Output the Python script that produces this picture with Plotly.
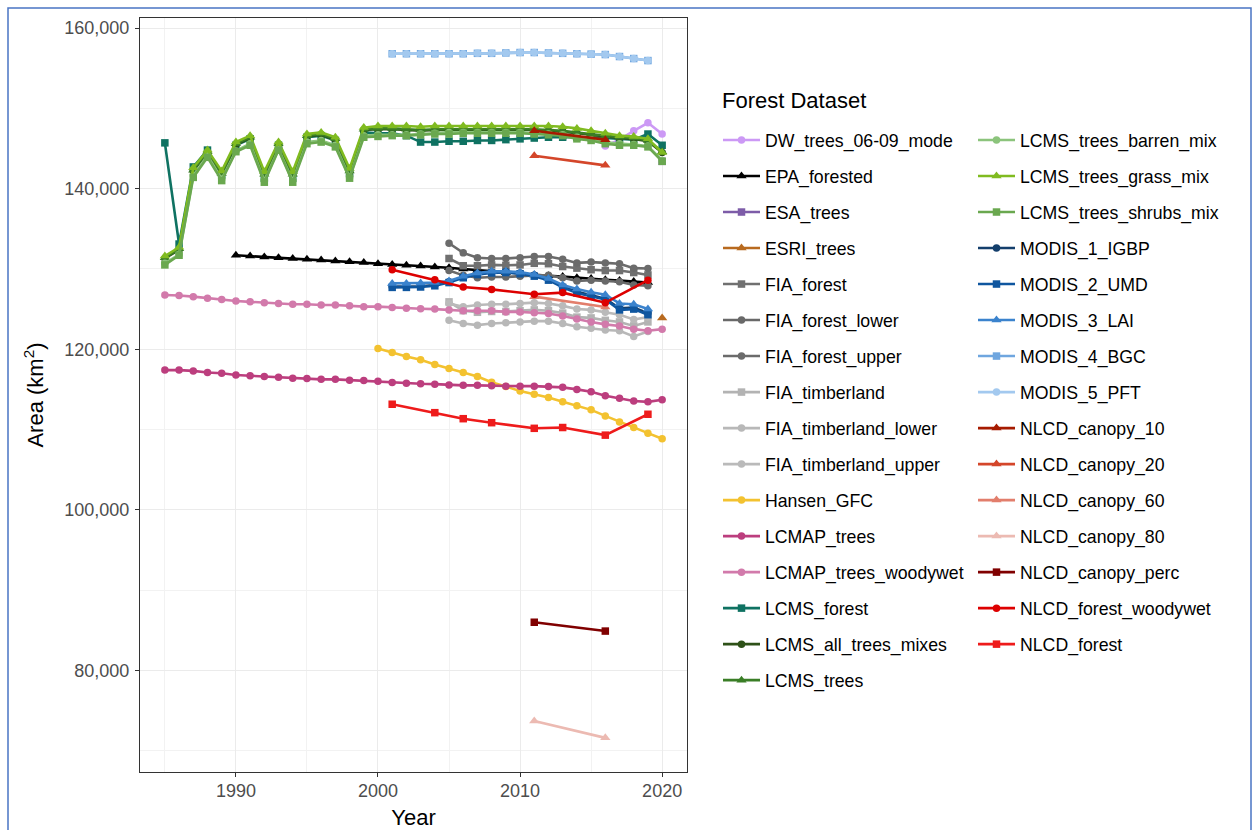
import plotly.graph_objects as go

# ---------------- data ----------------
years_lcms = list(range(1985, 2021))
years_lcmap = list(range(1985, 2021))
years_epa = list(range(1990, 2020))
years_hansen = list(range(2000, 2021))
years_fia = list(range(2005, 2020))
years_modis = list(range(2001, 2020))
years_dw = [2016, 2017, 2018, 2019, 2020]
years_nlcd = [2001, 2004, 2006, 2008, 2011, 2013, 2016, 2019]
years_canopy = [2011, 2016]
years_esri = [2020]
years_esa = [2020]

DW_trees_06_09_mode = [145300, 146100, 147200, 148200, 146800]
EPA_forested = [131700, 131600, 131500, 131400, 131300, 131200, 131100, 131000, 130900, 130800,
                130650, 130550, 130450, 130350, 130250, 130150, 130000, 129850, 129700, 129550,
                129400, 129250, 129150, 129050, 128900, 128800, 128650, 128550, 128450, 128300]
ESA_trees = [143400]
ESRI_trees = [123900]
FIA_forest = [131300, 130400, 130400, 130500, 130450, 130500, 130700, 130650, 130300, 130100,
              129900, 129800, 129800, 129550, 129250]
FIA_forest_lower = [129800, 129200, 128900, 129000, 129000, 129100, 129200, 129200, 128900, 128500,
                    128600, 128500, 128400, 128000, 127900]
FIA_forest_upper = [133200, 132000, 131400, 131300, 131300, 131400, 131550, 131550, 131200, 130750,
                    130850, 130750, 130650, 130100, 130050]
FIA_timberland = [125900, 124800, 124600, 124700, 124700, 124800, 124900, 124800, 124500, 124000,
                  123900, 123600, 123400, 122900, 123400]
FIA_timberland_lower = [123600, 123200, 123000, 123200, 123300, 123400, 123500, 123500, 123200, 122800,
                        122600, 122400, 122300, 121600, 122200]
FIA_timberland_upper = [125700, 125300, 125500, 125600, 125600, 125700, 125800, 125700, 125400, 125000,
                        124900, 124600, 124300, 123700, 124000]
Hansen_GFC = [120100, 119600, 119100, 118700, 118100, 117600, 117100, 116600, 115900, 115350,
              114800, 114400, 114000, 113450, 112950, 112450, 111700, 110950, 110250, 109550, 108850]
LCMAP_trees = [117400, 117400, 117300, 117100, 117000, 116800, 116700, 116600, 116500, 116400,
               116350, 116250, 116250, 116150, 116100, 116000, 115850, 115750, 115700, 115650,
               115550, 115500, 115500, 115450, 115400, 115400, 115400, 115350, 115250, 115000,
               114700, 114200, 113900, 113550, 113450, 113700]
LCMAP_trees_woodywet = [126750, 126700, 126550, 126350, 126200, 126000, 125900, 125800, 125700, 125600,
                        125600, 125500, 125500, 125400, 125300, 125300, 125200, 125100, 125050, 125000,
                        124900, 124800, 124800, 124800, 124650, 124650, 124550, 124450, 124150, 123750,
                        123400, 123100, 122900, 122500, 122300, 122500]
LCMS_forest = [145700, 133100, 142700, 144800, 141700, 145400, 146200, 141300, 145400, 141300,
               146400, 146600, 146000, 141900, 147000, 146900, 146900, 146600, 145800, 145800,
               145900, 145900, 146000, 146000, 146100, 146200, 146300, 146400, 146400, 146400,
               146400, 146300, 146200, 146100, 146800, 145400]
LCMS_all_trees_mixes = [131300, 132400, 142200, 144500, 141800, 145500, 146300, 141700, 145500, 141700,
                        146500, 146700, 146100, 142100, 147300, 147400, 147400, 147300, 147200, 147300,
                        147300, 147300, 147300, 147300, 147300, 147300, 147300, 147200, 147100, 146900,
                        146700, 146500, 146300, 146200, 145900, 144500]
LCMS_trees = [131400, 132500, 142300, 144600, 141900, 145600, 146400, 141800, 145600, 141800,
              146600, 146800, 146200, 142200, 147400, 147500, 147500, 147400, 147300, 147400,
              147400, 147400, 147400, 147400, 147400, 147400, 147400, 147300, 147200, 147000,
              146800, 146600, 146400, 146300, 146000, 144600]
LCMS_trees_barren_mix = [130700, 131800, 141600, 144100, 141200, 144700, 145600, 141000, 144900, 141000,
                         145800, 146000, 145400, 141400, 146600, 146700, 146700, 146700, 146800, 146900,
                         147000, 147000, 147000, 147000, 147000, 147000, 146900, 146800, 146700, 146400,
                         146100, 145800, 145600, 145500, 145300, 143500]
LCMS_trees_grass_mix = [131600, 132700, 142600, 144800, 142200, 145800, 146600, 142100, 145800, 142100,
                        146800, 147000, 146400, 142500, 147600, 147800, 147800, 147800, 147700, 147800,
                        147800, 147800, 147800, 147800, 147800, 147800, 147800, 147800, 147700, 147500,
                        147200, 146900, 146600, 146500, 146200, 144500]
LCMS_trees_shrubs_mix = [130500, 131700, 141400, 143900, 141000, 144600, 145400, 140800, 144800, 140800,
                         145600, 145800, 145200, 141300, 146400, 146500, 146600, 146600, 146700, 146800,
                         146800, 146900, 146900, 146900, 146900, 146900, 146800, 146700, 146600, 146200,
                         146000, 145600, 145400, 145400, 145200, 143400]
MODIS_1_IGBP = [127800, 127800, 127850, 128000, 128400, 129000, 129400, 129600, 129650, 129500,
                129200, 128700, 127800, 127150, 126700, 126300, 125100, 125200, 124500]
MODIS_2_UMD = [127700, 127700, 127750, 127900, 128300, 128900, 129300, 129500, 129550, 129400,
               129100, 128600, 127700, 127000, 126600, 126200, 124900, 125000, 124300]
MODIS_3_LAI = [128200, 128200, 128250, 128300, 128500, 129100, 129500, 129700, 129700, 129600,
               129300, 128800, 128000, 127500, 127100, 126800, 125700, 125600, 125000]
MODIS_4_BGC = [156800, 156800, 156800, 156800, 156800, 156800, 156850, 156850, 156900, 156950,
               156950, 156900, 156850, 156800, 156750, 156700, 156450, 156200, 155950]
MODIS_5_PFT = [156800, 156800, 156800, 156800, 156800, 156800, 156850, 156850, 156900, 156950,
               156950, 156900, 156850, 156800, 156750, 156700, 156450, 156200, 155950]
NLCD_canopy_10 = [147200, 146100]
NLCD_canopy_20 = [144100, 142900]
NLCD_canopy_60 = [126550, 125250]
NLCD_canopy_80 = [73700, 71600]
NLCD_canopy_perc = [86000, 84900]
NLCD_forest_woodywet = [129900, 128650, 127750, 127450, 126850, 127050, 125800, 128600]
NLCD_forest = [113150, 112100, 111350, 110850, 110150, 110250, 109300, 111900]

# (name, years, values, color, symbol)
series = [
    ("DW_trees_06-09_mode", years_dw, DW_trees_06_09_mode, "#cc99f5", "circle"),
    ("EPA_forested", years_epa, EPA_forested, "#000000", "triangle-up"),
    ("ESA_trees", years_esa, ESA_trees, "#7d5ca8", "square"),
    ("ESRI_trees", years_esri, ESRI_trees, "#b86a1f", "triangle-up"),
    ("FIA_forest", years_fia, FIA_forest, "#707070", "square"),
    ("FIA_forest_lower", years_fia, FIA_forest_lower, "#696969", "circle"),
    ("FIA_forest_upper", years_fia, FIA_forest_upper, "#6b6b6b", "circle"),
    ("FIA_timberland", years_fia, FIA_timberland, "#b3b3b3", "square"),
    ("FIA_timberland_lower", years_fia, FIA_timberland_lower, "#b8b8b8", "circle"),
    ("FIA_timberland_upper", years_fia, FIA_timberland_upper, "#bababa", "circle"),
    ("Hansen_GFC", years_hansen, Hansen_GFC, "#f3c230", "circle"),
    ("LCMAP_trees", years_lcmap, LCMAP_trees, "#bc3e7e", "circle"),
    ("LCMAP_trees_woodywet", years_lcmap, LCMAP_trees_woodywet, "#d27aab", "circle"),
    ("LCMS_forest", years_lcms, LCMS_forest, "#0f7262", "square"),
    ("LCMS_all_trees_mixes", years_lcms, LCMS_all_trees_mixes, "#2e5118", "circle"),
    ("LCMS_trees", years_lcms, LCMS_trees, "#3a7e26", "triangle-up"),
    ("LCMS_trees_barren_mix", years_lcms, LCMS_trees_barren_mix, "#8cc47c", "circle"),
    ("LCMS_trees_grass_mix", years_lcms, LCMS_trees_grass_mix, "#80bb20", "triangle-up"),
    ("LCMS_trees_shrubs_mix", years_lcms, LCMS_trees_shrubs_mix, "#6aa84f", "square"),
    ("MODIS_1_IGBP", years_modis, MODIS_1_IGBP, "#143f6c", "circle"),
    ("MODIS_2_UMD", years_modis, MODIS_2_UMD, "#0f569f", "square"),
    ("MODIS_3_LAI", years_modis, MODIS_3_LAI, "#3b83cd", "triangle-up"),
    ("MODIS_4_BGC", years_modis, MODIS_4_BGC, "#6fa6df", "square"),
    ("MODIS_5_PFT", years_modis, MODIS_5_PFT, "#a3c9ef", "circle"),
    ("NLCD_canopy_10", years_canopy, NLCD_canopy_10, "#a61b00", "triangle-up"),
    ("NLCD_canopy_20", years_canopy, NLCD_canopy_20, "#d4462a", "triangle-up"),
    ("NLCD_canopy_60", years_canopy, NLCD_canopy_60, "#e27e6c", "triangle-up"),
    ("NLCD_canopy_80", years_canopy, NLCD_canopy_80, "#ecbab2", "triangle-up"),
    ("NLCD_canopy_perc", years_canopy, NLCD_canopy_perc, "#800000", "square"),
    ("NLCD_forest_woodywet", years_nlcd, NLCD_forest_woodywet, "#dd0000", "circle"),
    ("NLCD_forest", years_nlcd, NLCD_forest, "#ee1b1b", "square"),
]
SYM_SIZE = {"circle": 7.5, "square": 7.5, "triangle-up": 9}

FONT = "Liberation Sans, Arial, sans-serif"

fig = go.Figure()
for i, (name, xs, ys, col, sym) in enumerate(series):
    fig.add_trace(go.Scatter(
        x=xs, y=ys, name=name, mode="lines+markers",
        line=dict(color=col, width=2.6),
        marker=dict(color=col, symbol=sym, size=SYM_SIZE[sym]),
        legendgroup=name,
        legend="legend" if i < 16 else "legend2",
        showlegend=True,
    ))

W, H = 1254, 830
L, R, T, B = 140, 687, 18, 772
pw, ph = R - L, B - T

def px(xp):
    return (xp - L) / pw

def py(yp):
    return 1 - (yp - T) / ph

legend_common = dict(
    xanchor="left", yanchor="top",
    font=dict(size=17.7, family=FONT, color="#000000"),
    traceorder="grouped", tracegroupgap=10, itemwidth=37,
    bgcolor="rgba(0,0,0,0)",
)

fig.update_layout(
    width=W, height=H,
    margin=dict(l=L, r=W - R, t=T, b=H - B, pad=0, autoexpand=False),
    paper_bgcolor="white", plot_bgcolor="white",
    font=dict(family=FONT, size=18, color="#4d4d4d"),
    showlegend=True,
    legend=dict(x=px(718), y=py(122), **legend_common),
    legend2=dict(x=px(973), y=py(122), **legend_common),
    annotations=[dict(text="Forest Dataset", xref="paper", yref="paper",
                      x=px(720), y=py(100.5), xanchor="left", yanchor="middle",
                      showarrow=False, font=dict(size=22, color="#000000", family=FONT))],
    xaxis=dict(
        range=[1983.25, 2021.75], tickmode="linear", tick0=1990, dtick=10,
        showgrid=True, gridcolor="#ebebeb", gridwidth=1.3,
        minor=dict(tickmode="linear", tick0=1985, dtick=5, showgrid=True, gridcolor="#f2f2f2", gridwidth=0.8, ticks=""),
        ticks="outside", ticklen=4, tickcolor="#333333", tickwidth=1,
        ticklabelstandoff=-2,
        showline=True, mirror=True, linecolor="#333333", linewidth=1,
        zeroline=False, automargin=False,
        tickfont=dict(size=18, color="#4d4d4d", family=FONT),
        title=dict(text="Year", font=dict(size=22, color="#000000", family=FONT), standoff=17),
    ),
    yaxis=dict(
        range=[67350, 161250], tickmode="linear", tick0=0, dtick=20000, tickformat=",d",
        showgrid=True, gridcolor="#ebebeb", gridwidth=1.3,
        minor=dict(tickmode="linear", tick0=0, dtick=10000, showgrid=True, gridcolor="#f2f2f2", gridwidth=0.8, ticks=""),
        ticks="outside", ticklen=4, tickcolor="#333333", tickwidth=1,
        ticklabelstandoff=2,
        showline=True, mirror=True, linecolor="#333333", linewidth=1,
        zeroline=False, automargin=False,
        tickfont=dict(size=18, color="#4d4d4d", family=FONT),
        title=dict(text="Area (km<sup>2</sup>)", font=dict(size=22, color="#000000", family=FONT), standoff=14),
    ),
    shapes=[dict(type="rect", xref="paper", yref="paper",
                 x0=px(8), x1=px(1251), y0=py(840), y1=py(8),
                 line=dict(color="#4a74c4", width=1.5), fillcolor="rgba(0,0,0,0)", layer="below")],
)

fig.write_html("out.html")
